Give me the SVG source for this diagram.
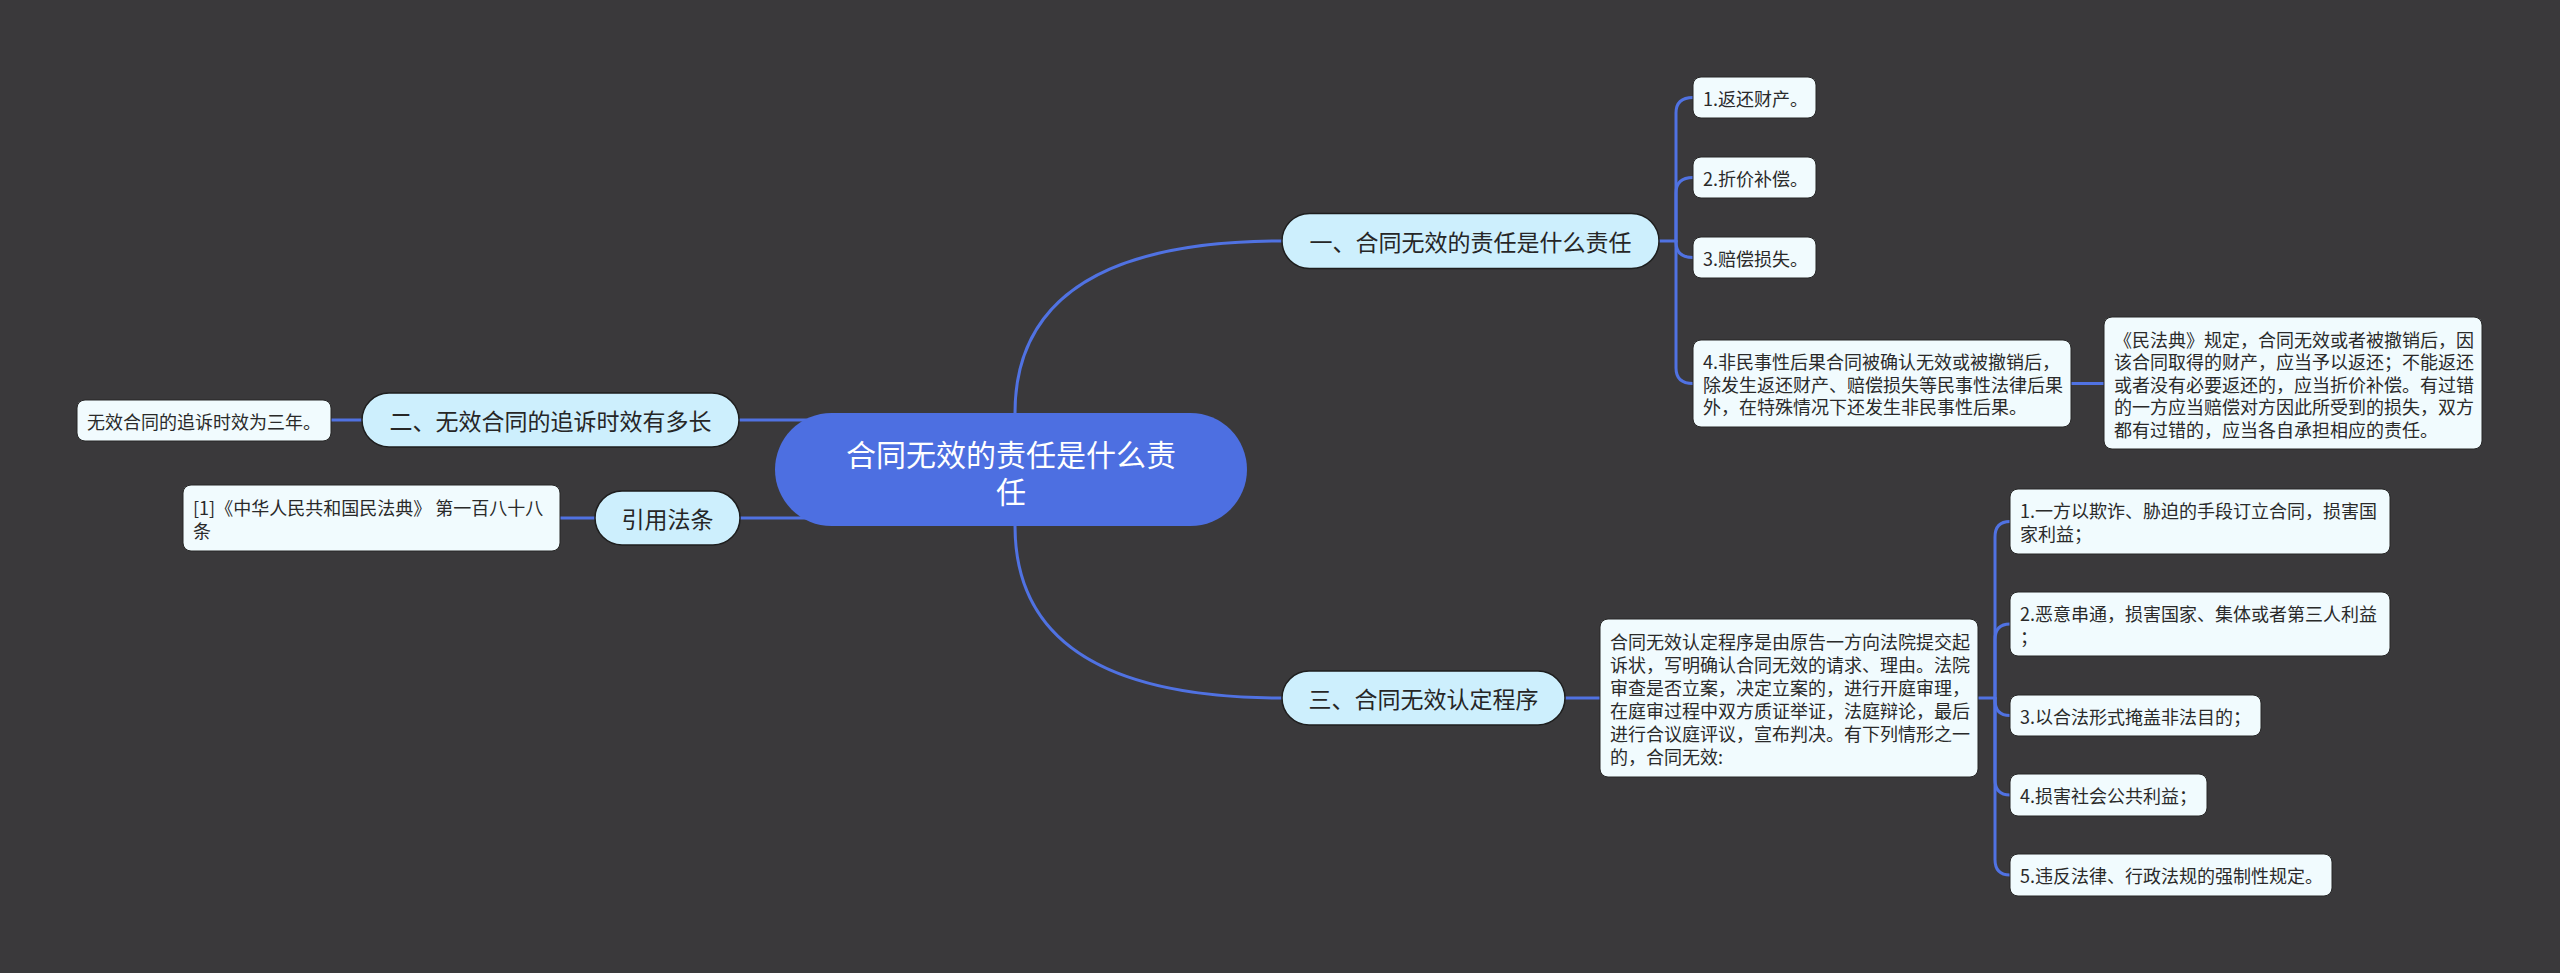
<svg xmlns="http://www.w3.org/2000/svg" width="2560" height="973" viewBox="0 0 2560 973">
<style>
.bg{fill:#3a393b}
.ln{fill:none;stroke:#5072e2;stroke-width:3;stroke-linecap:round}
.root{fill:#4d6fe1}
.sec{fill:#cdeffd;stroke:#1e1e1e;stroke-width:1.5}
.leaf{fill:#f1fbfe;stroke:#262626;stroke-width:1}
text{font-family:"Noto Sans CJK SC","Noto Sans",sans-serif;dominant-baseline:central}
.rt{fill:#ffffff;font-size:30px;text-anchor:middle}
.st{fill:#262626;font-size:23px;text-anchor:middle}
.lt{fill:#2a2a2a;font-size:18px}
</style>
<rect class="bg" x="0" y="0" width="2560" height="973"/>
<g id="connectors">
<path class="ln" d="M1015,440 L1015,413 Q1015,241 1282,241"/>
<path class="ln" d="M1015,500 L1015,526 Q1015,698 1282,698"/>
<path class="ln" d="M810,420 H740"/>
<path class="ln" d="M810,518 H740"/>
<path class="ln" d="M362,420 H331"/>
<path class="ln" d="M595,518 H560"/>
<path class="ln" d="M1659,241 H1676 V113 Q1676,97.5 1693,97.5"/>
<path class="ln" d="M1676,241 V193 Q1676,177.5 1693,177.5"/>
<path class="ln" d="M1676,241 V242 Q1676,257.5 1693,257.5"/>
<path class="ln" d="M1676,241 V368 Q1676,383.5 1693,383.5"/>
<path class="ln" d="M2071,383.5 H2104"/>
<path class="ln" d="M1565,698 H1600"/>
<path class="ln" d="M1978,698 H1995 V537 Q1995,521.5 2010,521.5"/>
<path class="ln" d="M1995,698 V639.5 Q1995,624 2010,624"/>
<path class="ln" d="M1995,698 V700 Q1995,715.5 2010,715.5"/>
<path class="ln" d="M1995,698 V779.5 Q1995,795 2010,795"/>
<path class="ln" d="M1995,698 V859.5 Q1995,875 2010,875"/>
</g>
<g id="root">
<rect class="root" x="775" y="413" width="472" height="113" rx="56.5"/>
<text class="rt" x="1011" y="453"><tspan x="1011" y="453">合同无效的责任是什么责</tspan><tspan x="1011" y="490">任</tspan></text>
</g>
<g id="n1">
<rect class="sec" x="1282" y="213.5" width="377" height="55" rx="27.5"/>
<text class="st" x="1470.5" y="241">一、合同无效的责任是什么责任</text>
</g>
<g id="n1-1">
<rect class="leaf" x="1693" y="77" width="123" height="41" rx="8"/>
<text class="lt" x="1703" y="97.5">1.返还财产。</text>
</g>
<g id="n1-2">
<rect class="leaf" x="1693" y="157" width="123" height="41" rx="8"/>
<text class="lt" x="1703" y="177.5">2.折价补偿。</text>
</g>
<g id="n1-3">
<rect class="leaf" x="1693" y="237" width="123" height="41" rx="8"/>
<text class="lt" x="1703" y="257.5">3.赔偿损失。</text>
</g>
<g id="n1-4">
<rect class="leaf" x="1693" y="340" width="378" height="87" rx="8"/>
<text class="lt" x="1703" y="361">4.非民事性后果合同被确认无效或被撤销后，</text>
<text class="lt" x="1703" y="383.5">除发生返还财产、赔偿损失等民事性法律后果</text>
<text class="lt" x="1703" y="406">外，在特殊情况下还发生非民事性后果。</text>
</g>
<g id="n1-4-1">
<rect class="leaf" x="2104" y="317" width="378" height="132" rx="8"/>
<text class="lt" x="2114" y="338.5">《民法典》规定，合同无效或者被撤销后，因</text>
<text class="lt" x="2114" y="361">该合同取得的财产，应当予以返还；不能返还</text>
<text class="lt" x="2114" y="383.5">或者没有必要返还的，应当折价补偿。有过错</text>
<text class="lt" x="2114" y="406">的一方应当赔偿对方因此所受到的损失，双方</text>
<text class="lt" x="2114" y="428.5">都有过错的，应当各自承担相应的责任。</text>
</g>
<g id="n2">
<rect class="sec" x="362" y="393" width="377" height="54" rx="27"/>
<text class="st" x="550.5" y="420">二、无效合同的追诉时效有多长</text>
</g>
<g id="n2-1">
<rect class="leaf" x="77" y="400" width="254" height="41" rx="8"/>
<text class="lt" x="87" y="420.5">无效合同的追诉时效为三年。</text>
</g>
<g id="n4">
<rect class="sec" x="595" y="491" width="145" height="54" rx="27"/>
<text class="st" x="667.5" y="518">引用法条</text>
</g>
<g id="n4-1">
<rect class="leaf" x="183" y="485" width="377" height="66" rx="8"/>
<text class="lt" x="193" y="506.5">[1]《中华人民共和国民法典》 第一百八十八</text>
<text class="lt" x="193" y="529.5">条</text>
</g>
<g id="n3">
<rect class="sec" x="1282" y="671" width="283" height="54" rx="27"/>
<text class="st" x="1423.5" y="698">三、合同无效认定程序</text>
</g>
<g id="n3-1">
<rect class="leaf" x="1600" y="619" width="378" height="158" rx="8"/>
<text class="lt" x="1610" y="640.5">合同无效认定程序是由原告一方向法院提交起</text>
<text class="lt" x="1610" y="663.5">诉状，写明确认合同无效的请求、理由。法院</text>
<text class="lt" x="1610" y="686.5">审查是否立案，决定立案的，进行开庭审理，</text>
<text class="lt" x="1610" y="709.5">在庭审过程中双方质证举证，法庭辩论，最后</text>
<text class="lt" x="1610" y="732.5">进行合议庭评议，宣布判决。有下列情形之一</text>
<text class="lt" x="1610" y="755.5">的，合同无效:</text>
</g>
<g id="n3-1-1">
<rect class="leaf" x="2010" y="489" width="380" height="65" rx="8"/>
<text class="lt" x="2020" y="510">1.一方以欺诈、胁迫的手段订立合同，损害国</text>
<text class="lt" x="2020" y="533">家利益；</text>
</g>
<g id="n3-1-2">
<rect class="leaf" x="2010" y="592" width="380" height="64" rx="8"/>
<text class="lt" x="2020" y="612.5">2.恶意串通，损害国家、集体或者第三人利益</text>
<text class="lt" x="2020" y="635.5">；</text>
</g>
<g id="n3-1-3">
<rect class="leaf" x="2010" y="695" width="251" height="41" rx="8"/>
<text class="lt" x="2020" y="715.5">3.以合法形式掩盖非法目的；</text>
</g>
<g id="n3-1-4">
<rect class="leaf" x="2010" y="774" width="197" height="42" rx="8"/>
<text class="lt" x="2020" y="795">4.损害社会公共利益；</text>
</g>
<g id="n3-1-5">
<rect class="leaf" x="2010" y="854" width="322" height="42" rx="8"/>
<text class="lt" x="2020" y="875">5.违反法律、行政法规的强制性规定。</text>
</g>
</svg>
